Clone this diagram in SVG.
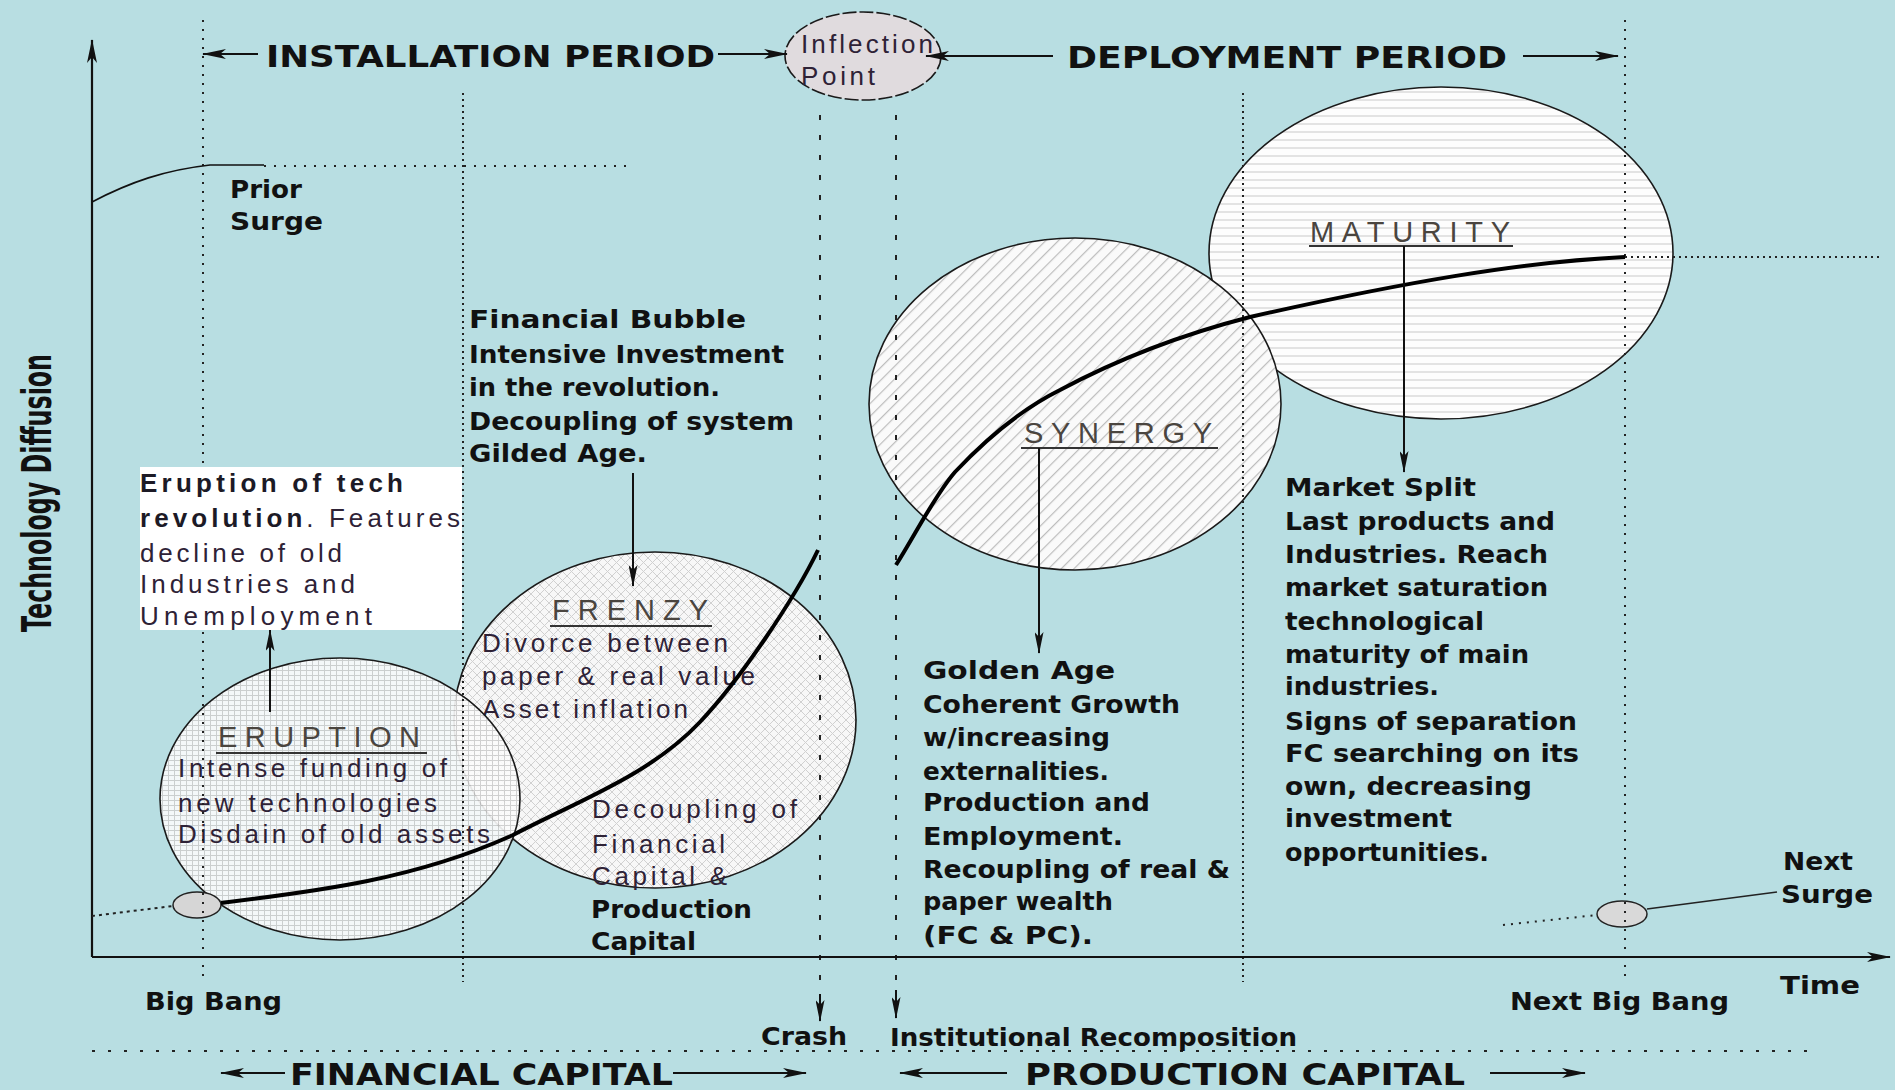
<svg xmlns="http://www.w3.org/2000/svg" width="1895" height="1090" viewBox="0 0 1895 1090">
  <style>
    .hb { font-family: "DejaVu Sans", "Liberation Sans", sans-serif; font-weight: bold; fill: #111; }
    .bd { font-family: "DejaVu Sans", "Liberation Sans", sans-serif; font-weight: bold; font-size: 24px; fill: #111; }
    .rg { font-family: "Liberation Sans", Arial, sans-serif; font-size: 26px; fill: #2e2236; }
    .rb { font-family: "Liberation Sans", Arial, sans-serif; font-size: 26px; font-weight: bold; fill: #1c1a26; }
    .ttl { font-family: "Liberation Sans", Arial, sans-serif; font-size: 29px; fill: #4a453f; }
    .ul { stroke: #333; stroke-width: 2; }
    .shape { stroke: #1a1a1a; stroke-width: 1.6; }
    .ln { stroke: #111; stroke-width: 2; fill: none; }
    .dot-s { stroke: #222; stroke-width: 2; stroke-dasharray: 2 7; fill: none; }
    .dot-d { stroke: #222; stroke-width: 2; stroke-dasharray: 2 4; fill: none; }
    .dash { stroke: #222; stroke-width: 2; stroke-dasharray: 5 15; fill: none; }
  </style>
  <defs>
    <marker id="ah" viewBox="0 0 24 10" refX="23" refY="5" markerWidth="24" markerHeight="10" markerUnits="userSpaceOnUse" orient="auto">
      <path d="M0,0 L24,5 L0,10 L6,5 z" fill="#111"/>
    </marker>
    <marker id="ahs" viewBox="0 0 22 9" refX="21" refY="4.5" markerWidth="22" markerHeight="9" markerUnits="userSpaceOnUse" orient="auto">
      <path d="M0,0 L22,4.5 L0,9 L5,4.5 z" fill="#111"/>
    </marker>
    <!-- fills for the four phase ellipses -->
    <pattern id="grid" width="6" height="5" patternUnits="userSpaceOnUse">
      <rect width="6" height="5" fill="#fbfbfb"/>
      <path d="M0,0.5H6M0.5,0V5" stroke="#cdcdcd" stroke-width="1"/>
    </pattern>
    <pattern id="diamond" width="9" height="9" patternUnits="userSpaceOnUse">
      <rect width="9" height="9" fill="#f7f7f7"/>
      <path d="M0,0L9,9M9,0L0,9" stroke="#d0d0d0" stroke-width="1"/>
    </pattern>
    <pattern id="hatch" width="9" height="9" patternUnits="userSpaceOnUse" patternTransform="rotate(45)">
      <rect width="9" height="9" fill="#fafafa"/>
      <line x1="0.6" y1="0" x2="0.6" y2="9" stroke="#bdbdbd" stroke-width="1.2"/>
    </pattern>
    <pattern id="hlines" width="10" height="8" patternUnits="userSpaceOnUse">
      <rect width="10" height="8" fill="#fdfdfd"/>
      <line x1="0" y1="4" x2="10" y2="4" stroke="#d2d2d2" stroke-width="1.2"/>
    </pattern>
  </defs>

  <rect width="1895" height="1090" fill="#b8dee2"/>

  <!-- phase ellipses -->
  <g id="maturity">
    <ellipse class="shape" cx="1441" cy="253" rx="232" ry="166" fill="url(#hlines)"/>
    <text class="ttl" x="1310" y="242" textLength="200" lengthAdjust="spacing">MATURITY</text>
    <line class="ul" x1="1309" y1="246" x2="1513" y2="246"/>
  </g>
  <g id="synergy">
    <ellipse class="shape" cx="1075" cy="404" rx="206" ry="166" fill="url(#hatch)"/>
    <text class="ttl" x="1024" y="443" textLength="188" lengthAdjust="spacing">SYNERGY</text>
    <line class="ul" x1="1021" y1="448" x2="1218" y2="448"/>
  </g>
  <g id="frenzy">
    <ellipse class="shape" cx="655" cy="720" rx="201" ry="168" fill="url(#diamond)"/>
    <text class="ttl" x="552" y="620" textLength="156" lengthAdjust="spacing">FRENZY</text>
    <line class="ul" x1="550" y1="626" x2="712" y2="626"/>
    <text class="rg" x="482" y="652" textLength="246" lengthAdjust="spacing">Divorce between</text>
    <text class="rg" x="482" y="685" textLength="273" lengthAdjust="spacing">paper &amp; real value</text>
    <text class="rg" x="482" y="718" textLength="206" lengthAdjust="spacing">Asset inflation</text>
    <text class="rg" x="592" y="818" textLength="205" lengthAdjust="spacing">Decoupling of</text>
    <text class="rg" x="592" y="853" textLength="133" lengthAdjust="spacing">Financial</text>
    <text class="rg" x="592" y="885" textLength="135" lengthAdjust="spacing">Capital &amp;</text>
    <text class="bd" x="591" y="918" textLength="161" lengthAdjust="spacingAndGlyphs">Production</text>
    <text class="bd" x="591" y="950" textLength="105" lengthAdjust="spacingAndGlyphs">Capital</text>
  </g>
  <g id="eruption">
    <ellipse class="shape" cx="340" cy="799" rx="180" ry="141" fill="url(#grid)" fill-opacity="0.9"/>
    <text class="ttl" x="218" y="747" textLength="202" lengthAdjust="spacing">ERUPTION</text>
    <line class="ul" x1="216" y1="753" x2="427" y2="753"/>
    <text class="rg" x="178" y="777" textLength="269" lengthAdjust="spacing">Intense funding of</text>
    <text class="rg" x="178" y="812" textLength="259" lengthAdjust="spacing">new technologies</text>
    <text class="rg" x="178" y="843" textLength="312" lengthAdjust="spacing">Disdain of old assets</text>
  </g>
  <g id="inflection-point">
    <ellipse cx="863" cy="56" rx="78" ry="44" fill="#e0dbde" stroke="#1a1a1a" stroke-width="1.6" stroke-dasharray="14 3"/>
    <text class="rg" x="801" y="53" textLength="132" lengthAdjust="spacing" fill="#3a2444">Inflection</text>
    <text class="rg" x="801" y="85" textLength="74" lengthAdjust="spacing" fill="#3a2444">Point</text>
  </g>
  <g id="big-bang-marker">
    <ellipse cx="197" cy="905" rx="24" ry="13" fill="#d6d6d6" stroke="#222" stroke-width="1.5"/>
  </g>
  <g id="next-big-bang-marker">
    <ellipse cx="1622" cy="914" rx="25" ry="13" fill="#d9d9d9" stroke="#222" stroke-width="1.5"/>
  </g>

  <!-- axes, guides, curves and arrows -->
  <g id="connectors">
    <!-- time guides -->
    <line class="dot-s" x1="203" y1="20" x2="203" y2="978"/>
    <line class="dot-d" x1="463" y1="93" x2="463" y2="982"/>
    <line class="dot-d" x1="1243" y1="93" x2="1243" y2="982"/>
    <line class="dot-s" x1="1625" y1="20" x2="1625" y2="982"/>
    <line class="dash" x1="820" y1="115" x2="820" y2="998"/>
    <line class="dash" x1="896" y1="115" x2="896" y2="992"/>
    <line class="ln" x1="820" y1="994" x2="820" y2="1021" marker-end="url(#ahs)"/>
    <line class="ln" x1="896" y1="990" x2="896" y2="1018" marker-end="url(#ahs)"/>
    <line x1="92" y1="1051" x2="1815" y2="1051" stroke="#222" stroke-width="2" stroke-dasharray="3 13"/>

    <!-- axes -->
    <line x1="92" y1="957" x2="92" y2="40" stroke="#111" stroke-width="2.2" marker-end="url(#ah)"/>
    <line x1="92" y1="957" x2="1890" y2="957" stroke="#111" stroke-width="2.2" marker-end="url(#ah)"/>

    <!-- period arrows -->
    <line class="ln" x1="258" y1="54" x2="203" y2="54" marker-end="url(#ah)"/>
    <line class="ln" x1="718" y1="54" x2="787" y2="54" marker-end="url(#ah)"/>
    <line class="ln" x1="1053" y1="56" x2="926" y2="56" marker-end="url(#ah)"/>
    <line class="ln" x1="1523" y1="56" x2="1618" y2="56" marker-end="url(#ah)"/>
    <line class="ln" x1="285" y1="1073" x2="221" y2="1073" marker-end="url(#ah)"/>
    <line class="ln" x1="673" y1="1073" x2="806" y2="1073" marker-end="url(#ah)"/>
    <line class="ln" x1="1007" y1="1073" x2="900" y2="1073" marker-end="url(#ah)"/>
    <line class="ln" x1="1490" y1="1073" x2="1585" y2="1073" marker-end="url(#ah)"/>

    <!-- prior surge -->
    <path d="M92,202 C130,182 165,170 210,165 L264,165" stroke="#111" stroke-width="1.6" fill="none"/>
    <line x1="264" y1="166" x2="627" y2="166" stroke="#222" stroke-width="2" stroke-dasharray="2 8"/>

    <!-- installation curve -->
    <line x1="92" y1="916" x2="173" y2="906" stroke="#222" stroke-width="2" stroke-dasharray="3 4"/>
    <path d="M221,903 C319,891 416,879 513,835 C580,800 650,775 700,722 C740,680 795,598 818,550" stroke="#000" stroke-width="4" fill="none"/>

    <!-- deployment curve -->
    <path d="M896,565 C915,535 935,495 955,472 C985,440 1020,410 1060,390 C1120,358 1180,335 1250,317 C1400,283 1520,262 1625,257" stroke="#000" stroke-width="4" fill="none"/>
    <line x1="1625" y1="257" x2="1880" y2="257" stroke="#222" stroke-width="2" stroke-dasharray="2 4"/>

    <!-- next surge -->
    <line x1="1503" y1="925" x2="1597" y2="915" stroke="#222" stroke-width="2" stroke-dasharray="2 6"/>
    <line x1="1647" y1="909" x2="1777" y2="892" stroke="#222" stroke-width="1.6"/>

    <!-- phase call-outs -->
    <line class="ln" x1="270" y1="712" x2="270" y2="630" marker-end="url(#ahs)"/>
    <line class="ln" x1="633" y1="473" x2="633" y2="586" marker-end="url(#ahs)"/>
    <line class="ln" x1="1039" y1="448" x2="1039" y2="653" marker-end="url(#ahs)"/>
    <line class="ln" x1="1404" y1="246" x2="1404" y2="472" marker-end="url(#ahs)"/>
  </g>

  <!-- period headings -->
  <g id="installation-period">
    <text class="hb" x="266" y="67" font-size="30" textLength="449" lengthAdjust="spacingAndGlyphs">INSTALLATION PERIOD</text>
  </g>
  <g id="deployment-period">
    <text class="hb" x="1067" y="68" font-size="30" textLength="440" lengthAdjust="spacingAndGlyphs">DEPLOYMENT PERIOD</text>
  </g>
  <g id="financial-capital">
    <text class="hb" x="290" y="1085" font-size="31" textLength="383" lengthAdjust="spacingAndGlyphs">FINANCIAL CAPITAL</text>
  </g>
  <g id="production-capital">
    <text class="hb" x="1025" y="1085" font-size="31" textLength="440" lengthAdjust="spacingAndGlyphs">PRODUCTION CAPITAL</text>
  </g>

  <!-- axis titles -->
  <g id="axis-y-title">
    <text class="hb" transform="translate(51,493) rotate(-90)" x="0" y="0" font-size="40" text-anchor="middle" textLength="278" lengthAdjust="spacingAndGlyphs">Technology Diffusion</text>
  </g>
  <g id="axis-x-title">
    <text class="bd" x="1780" y="994" textLength="80" lengthAdjust="spacingAndGlyphs">Time</text>
  </g>

  <!-- descriptive notes -->
  <g id="eruption-note">
    <rect x="140" y="467" width="322" height="163" fill="#ffffff"/>
    <text class="rb" x="140" y="492" textLength="263" lengthAdjust="spacing">Eruption of tech</text>
    <text class="rg" x="140" y="527" textLength="320" lengthAdjust="spacing"><tspan class="rb">revolution</tspan>. Features</text>
    <text class="rg" x="140" y="562" textLength="202" lengthAdjust="spacing">decline of old</text>
    <text class="rg" x="140" y="593" textLength="215" lengthAdjust="spacing">Industries and</text>
    <text class="rg" x="140" y="625" textLength="232" lengthAdjust="spacing">Unemployment</text>
  </g>
  <g id="frenzy-note">
    <text class="bd" x="469" y="328" textLength="277" lengthAdjust="spacingAndGlyphs">Financial Bubble</text>
    <text class="bd" x="469" y="363" textLength="315" lengthAdjust="spacingAndGlyphs">Intensive Investment</text>
    <text class="bd" x="469" y="396" textLength="251" lengthAdjust="spacingAndGlyphs">in the revolution.</text>
    <text class="bd" x="469" y="430" textLength="325" lengthAdjust="spacingAndGlyphs">Decoupling of system</text>
    <text class="bd" x="469" y="462" textLength="178" lengthAdjust="spacingAndGlyphs">Gilded Age.</text>
  </g>
  <g id="synergy-note">
    <text class="bd" x="923" y="679" textLength="192" lengthAdjust="spacingAndGlyphs">Golden Age</text>
    <text class="bd" x="923" y="713" textLength="257" lengthAdjust="spacingAndGlyphs">Coherent Growth</text>
    <text class="bd" x="923" y="746" textLength="187" lengthAdjust="spacingAndGlyphs">w/increasing</text>
    <text class="bd" x="923" y="780" textLength="186" lengthAdjust="spacingAndGlyphs">externalities.</text>
    <text class="bd" x="923" y="811" textLength="227" lengthAdjust="spacingAndGlyphs">Production and</text>
    <text class="bd" x="923" y="845" textLength="200" lengthAdjust="spacingAndGlyphs">Employment.</text>
    <text class="bd" x="923" y="878" textLength="307" lengthAdjust="spacingAndGlyphs">Recoupling of real &amp;</text>
    <text class="bd" x="923" y="910" textLength="190" lengthAdjust="spacingAndGlyphs">paper wealth</text>
    <text class="bd" x="923" y="944" textLength="170" lengthAdjust="spacingAndGlyphs">(FC &amp; PC).</text>
  </g>
  <g id="maturity-note">
    <text class="bd" x="1285" y="496" textLength="191" lengthAdjust="spacingAndGlyphs">Market Split</text>
    <text class="bd" x="1285" y="530" textLength="270" lengthAdjust="spacingAndGlyphs">Last products and</text>
    <text class="bd" x="1285" y="563" textLength="263" lengthAdjust="spacingAndGlyphs">Industries. Reach</text>
    <text class="bd" x="1285" y="596" textLength="263" lengthAdjust="spacingAndGlyphs">market saturation</text>
    <text class="bd" x="1285" y="630" textLength="199" lengthAdjust="spacingAndGlyphs">technological</text>
    <text class="bd" x="1285" y="663" textLength="244" lengthAdjust="spacingAndGlyphs">maturity of main</text>
    <text class="bd" x="1285" y="695" textLength="154" lengthAdjust="spacingAndGlyphs">industries.</text>
    <text class="bd" x="1285" y="730" textLength="292" lengthAdjust="spacingAndGlyphs">Signs of separation</text>
    <text class="bd" x="1285" y="762" textLength="294" lengthAdjust="spacingAndGlyphs">FC searching on its</text>
    <text class="bd" x="1285" y="795" textLength="247" lengthAdjust="spacingAndGlyphs">own, decreasing</text>
    <text class="bd" x="1285" y="827" textLength="167" lengthAdjust="spacingAndGlyphs">investment</text>
    <text class="bd" x="1285" y="861" textLength="204" lengthAdjust="spacingAndGlyphs">opportunities.</text>
  </g>

  <!-- event labels -->
  <g id="prior-surge">
    <text class="bd" x="230" y="198" textLength="72" lengthAdjust="spacingAndGlyphs">Prior</text>
    <text class="bd" x="230" y="230" textLength="93" lengthAdjust="spacingAndGlyphs">Surge</text>
  </g>
  <g id="next-surge">
    <text class="bd" x="1783" y="870" textLength="70" lengthAdjust="spacingAndGlyphs">Next</text>
    <text class="bd" x="1781" y="903" textLength="92" lengthAdjust="spacingAndGlyphs">Surge</text>
  </g>
  <g id="big-bang">
    <text class="bd" x="145" y="1010" textLength="137" lengthAdjust="spacingAndGlyphs">Big Bang</text>
  </g>
  <g id="next-big-bang">
    <text class="bd" x="1510" y="1010" textLength="219" lengthAdjust="spacingAndGlyphs">Next Big Bang</text>
  </g>
  <g id="crash">
    <text class="bd" x="761" y="1045" textLength="86" lengthAdjust="spacingAndGlyphs">Crash</text>
  </g>
  <g id="institutional-recomposition">
    <text class="bd" x="890" y="1046" textLength="407" lengthAdjust="spacingAndGlyphs">Institutional Recomposition</text>
  </g>
</svg>
